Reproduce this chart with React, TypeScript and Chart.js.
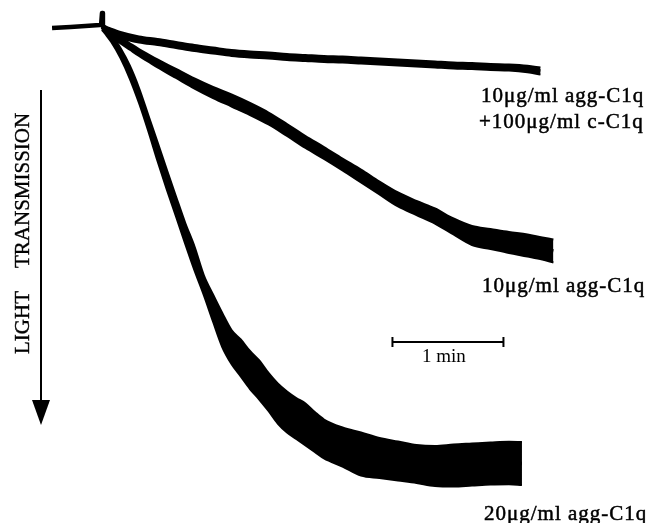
import { useEffect, useRef } from "react";
import { Chart, registerables } from "chart.js";

Chart.register(...registerables);

// Time is in seconds after the addition; deflection is in arbitrary
// light-transmission units (larger = more transmission, drawn downward).

// Pre-addition baseline with the mixing artefact at t = 0
const baselineTime = [-27, -17, -9, -1.2, -0.5, 0, 0.5, 1.2];
const baselineValue = [0.6, 0.4, 0.2, 0, 0, -2.4, 0.2, 0.5];

// 10 µg/ml agg-C1q + 100 µg/ml c-C1q
const blockedTime = [0, 2, 5, 10, 20, 30, 40, 50, 60, 70, 80, 90, 100, 110, 120, 130, 140, 150, 160, 170, 180, 190, 200, 210, 220, 230, 237];
const blockedValue = [0.4, 0.8, 1.3, 2.0, 2.9, 3.4, 4.0, 4.6, 5.1, 5.6, 5.9, 6.1, 6.4, 6.6, 6.8, 6.9, 7.1, 7.3, 7.5, 7.7, 7.9, 8.1, 8.2, 8.4, 8.5, 8.8, 9.2];
const blockedNoise = [0.5, 0.5, 0.55, 0.6, 0.6, 0.6, 0.6, 0.6, 0.6, 0.6, 0.6, 0.6, 0.6, 0.6, 0.6, 0.6, 0.6, 0.6, 0.6, 0.6, 0.6, 0.6, 0.6, 0.6, 0.6, 0.65, 0.7];

// 10 µg/ml agg-C1q
const lowDoseTime = [0, 2, 5, 10, 15, 20, 25, 30, 40, 50, 60, 70, 80, 90, 100, 110, 120, 130, 140, 150, 160, 170, 180, 190, 200, 210, 220, 230, 238, 244];
const lowDoseValue = [0.4, 1.0, 1.8, 3.1, 4.3, 5.5, 6.6, 7.7, 9.7, 11.7, 13.5, 15.1, 16.8, 18.7, 21.0, 23.4, 25.6, 27.9, 30.2, 32.6, 34.9, 36.6, 38.2, 40.3, 42.1, 42.8, 43.5, 44.1, 44.7, 45.2];
const lowDoseNoise = [0.4, 0.4, 0.5, 0.6, 0.65, 0.7, 0.75, 0.8, 0.9, 1.0, 1.1, 1.2, 1.2, 1.2, 1.2, 1.2, 1.2, 1.2, 1.3, 1.3, 1.4, 1.4, 1.5, 1.6, 1.9, 2.0, 2.1, 2.2, 2.2, 2.3];

// 20 µg/ml agg-C1q
const highDoseTime = [0, 2, 5, 10, 15, 20, 25, 30, 35, 40, 45, 50, 55, 60, 65, 70, 75, 80, 85, 90, 95, 100, 105, 110, 115, 120, 130, 140, 150, 160, 170, 180, 190, 200, 210, 220, 227];
const highDoseValue = [0.4, 1.3, 2.6, 5.6, 9.4, 14.1, 19.6, 25.3, 30.9, 36.3, 41.7, 46.7, 52.0, 56.6, 61.0, 64.4, 66.6, 69.0, 71.0, 73.4, 75.7, 77.4, 78.7, 79.9, 81.4, 82.8, 84.4, 85.8, 86.6, 87.2, 87.8, 88.2, 88.1, 87.9, 87.7, 87.6, 87.7];
const highDoseNoise = [0.6, 0.6, 0.8, 1.0, 1.3, 1.5, 1.6, 1.9, 2.0, 2.0, 2.1, 2.4, 2.0, 2.7, 3.4, 3.4, 3.7, 3.8, 3.9, 3.8, 4.0, 4.1, 4.1, 4.2, 4.0, 3.9, 3.9, 4.3, 4.0, 3.9, 3.8, 4.0, 4.2, 4.2, 4.2, 4.25, 4.3];

// Time calibration bar
const barStart = 157;
const barLength = 60;
const barLevel = 63.4;

const labelBlocked = ["10\u03bcg/ml agg-C1q", "+100\u03bcg/ml c-C1q"];
const labelLowDose = "10\u03bcg/ml agg-C1q";
const labelHighDose = "20\u03bcg/ml agg-C1q";
const barLabel = "1 min";
const axisWords = ["LIGHT", "TRANSMISSION"];

const INK = "#000000";
const SERIF = '"Liberation Serif", "Times New Roman", serif';

function points(t: number[], v: number[]) {
  return t.map((x, i) => ({ x, y: v[i] }));
}

// Each recording is drawn as a filled band between its noise envelope edges
function band(name: string, t: number[], v: number[], noise: number[]) {
  const upper = v.map((y, i) => y - noise[i]);
  const lower = v.map((y, i) => y + noise[i]);
  const common = {
    borderColor: INK,
    pointRadius: 0,
    cubicInterpolationMode: "monotone" as const,
  };
  return [
    {
      ...common,
      label: name + " upper",
      data: points(t, upper),
      borderWidth: 2,
      fill: false,
    },
    {
      ...common,
      label: name + " lower",
      data: points(t, lower),
      borderWidth: 2,
      backgroundColor: INK,
      fill: "-1",
    },
    {
      ...common,
      label: name,
      data: points(t, v),
      borderWidth: 3.5,
      fill: false,
      borderJoinStyle: "round" as const,
    },
  ];
}

function inkText(ctx: CanvasRenderingContext2D, text: string, x: number, y: number) {
  ctx.fillText(text, x, y);
  ctx.strokeText(text, x, y);
}

const annotations = {
  id: "annotations",
  afterDatasetsDraw(chart: any) {
    const { ctx } = chart;
    const xs = chart.scales.x;
    const ys = chart.scales.y;
    ctx.save();
    ctx.fillStyle = INK;
    ctx.strokeStyle = INK;

    // trace labels
    ctx.font = "21px " + SERIF;
    ctx.textAlign = "left";
    ctx.textBaseline = "alphabetic";
    ctx.lineWidth = 0.5;
    (ctx as any).letterSpacing = "1px";
    inkText(ctx, labelBlocked[0], 481, 102);
    inkText(ctx, labelBlocked[1], 479, 128);
    inkText(ctx, labelLowDose, 482, 292);
    inkText(ctx, labelHighDose, 484, 520);
    (ctx as any).letterSpacing = "0px";

    // calibration bar caption
    ctx.font = "19px " + SERIF;
    ctx.textAlign = "center";
    const cx = xs.getPixelForValue(barStart + barLength / 2);
    const by = ys.getPixelForValue(barLevel);
    ctx.fillText(barLabel, cx - 4, by + 20);

    // direction arrow
    ctx.lineWidth = 2;
    ctx.beginPath();
    ctx.moveTo(41, 90);
    ctx.lineTo(41, 404);
    ctx.stroke();
    ctx.beginPath();
    ctx.moveTo(32, 400);
    ctx.lineTo(50, 400);
    ctx.lineTo(41, 425);
    ctx.closePath();
    ctx.fill();

    // rotated axis caption
    ctx.translate(28.5, 354);
    ctx.rotate(-Math.PI / 2);
    ctx.font = "21px " + SERIF;
    ctx.textAlign = "left";
    ctx.lineWidth = 0.4;
    inkText(ctx, axisWords[0], 0, 0);
    inkText(ctx, axisWords[1], 86, 0);
    ctx.restore();
  },
};

export default function App() {
  const ref = useRef<HTMLCanvasElement>(null);

  useEffect(() => {
    if (!ref.current) return;
    const chart = new Chart(ref.current, {
      type: "line",
      data: {
        datasets: [
          {
            label: "baseline",
            data: points(baselineTime, baselineValue),
            borderColor: INK,
            borderWidth: 4.5,
            pointRadius: 0,
            fill: false,
            tension: 0,
            borderJoinStyle: "round",
          } as any,
          ...band("c-C1q", blockedTime, blockedValue, blockedNoise),
          ...band("10 agg", lowDoseTime, lowDoseValue, lowDoseNoise),
          ...band("20 agg", highDoseTime, highDoseValue, highDoseNoise),
          {
            label: "1 min",
            data: [
              { x: barStart, y: barLevel },
              { x: barStart + barLength, y: barLevel },
            ],
            borderColor: INK,
            borderWidth: 2,
            pointStyle: "line",
            rotation: 90,
            pointRadius: 5,
            pointBorderWidth: 2,
            pointBorderColor: INK,
            fill: false,
          } as any,
        ],
      },
      options: {
        responsive: false,
        animation: false,
        events: [],
        layout: { padding: 0, autoPadding: false },
        plugins: {
          legend: { display: false },
          tooltip: { enabled: false },
        },
        scales: {
          x: { type: "linear", display: false, min: -55.14, max: 298.38 },
          y: { type: "linear", display: false, reverse: true, min: -5, max: 99.6 },
        },
      },
      plugins: [annotations],
    });
    return () => chart.destroy();
  }, []);

  return (
    <div style={{ position: "absolute", left: 0, top: 0, width: 654, height: 523, background: "#ffffff" }}>
      <canvas ref={ref} width={654} height={523} style={{ display: "block", width: 654, height: 523 }} />
    </div>
  );
}
